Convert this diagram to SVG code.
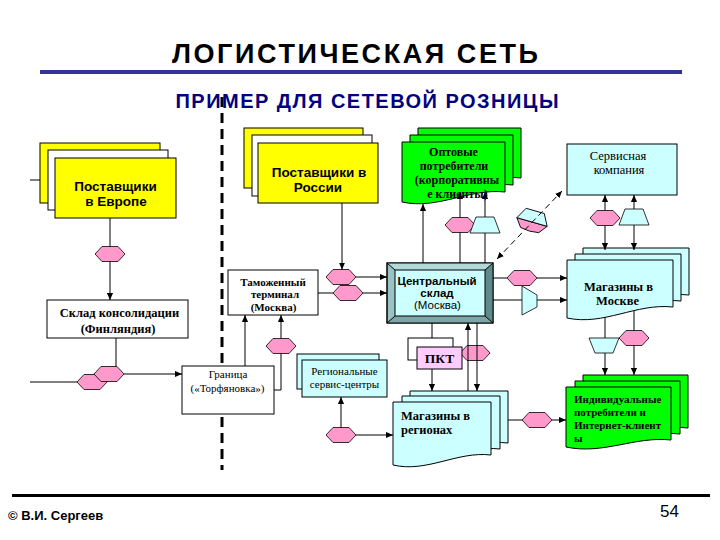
<svg xmlns="http://www.w3.org/2000/svg" width="720" height="540" viewBox="0 0 720 540">
<style>
.ln{stroke:#000;stroke-width:1;fill:none}
.hx{fill:#FF99CC;stroke:#000;stroke-width:0.8}
.tz{fill:#CCFFFF;stroke:#000;stroke-width:0.8}
.bx{stroke:#000;stroke-width:1}
.y{fill:#FFFF00}
.w{fill:#FFFFFF}
.g{fill:#00FF00}
.c{fill:#CCFFFF}
.sb{font-family:"Liberation Sans",Arial,sans-serif;font-weight:bold}
.s{font-family:"Liberation Sans",Arial,sans-serif}
.rb{font-family:"Liberation Serif","Times New Roman",serif;font-weight:bold}
.r{font-family:"Liberation Serif","Times New Roman",serif}
text{fill:#000}
</style>
<defs>
<marker id="ah" viewBox="0 0 8 8" refX="8" refY="4" markerWidth="7" markerHeight="7" markerUnits="userSpaceOnUse" orient="auto-start-reverse"><path d="M0,0.5 L8,4 L0,7.5 Z" fill="#000"/></marker>
<polygon id="hex" points="-15,0 -8,-7.5 8,-7.5 15,0 8,7.5 -8,7.5" class="hx"/>
<polygon id="trU" points="-9,-8 9,-8 15,8 -15,8" class="tz"/>
<polygon id="trD" points="-15,-7.5 15,-7.5 9,7.5 -9,7.5" class="tz"/>
</defs>
<rect width="720" height="540" fill="#fff"/>
<g id="title">
<text x="355" y="63" class="sb" font-size="27" text-anchor="middle" textLength="366" lengthAdjust="spacing">ЛОГИСТИЧЕСКАЯ СЕТЬ</text>
<rect x="40" y="70" width="642" height="4" fill="#333399"/>
<text x="367" y="108" class="sb" font-size="20" text-anchor="middle" textLength="383" lengthAdjust="spacing" style="fill:#000080">ПРИМЕР ДЛЯ СЕТЕВОЙ РОЗНИЦЫ</text>
</g>
<line x1="222" y1="97" x2="222" y2="470" stroke="#000" stroke-width="3" stroke-dasharray="10 6"/>
<g id="n-europe">
<rect x="40" y="143" width="120" height="60" class="bx y"/>
<rect x="48" y="150" width="120" height="60" class="bx w"/>
<rect x="55" y="158" width="121" height="60" class="bx y"/>
<text x="115.5" y="191" class="sb" font-size="13.5" text-anchor="middle">Поставщики</text>
<text x="116" y="206" class="sb" font-size="13.5" text-anchor="middle">в Европе</text>
</g>
<g id="n-sklad">
<rect x="47" y="300" width="141" height="38" class="bx w"/>
<text x="119.5" y="317" class="rb" font-size="12.5" text-anchor="middle">Склад консолидации</text>
<text x="118" y="333" class="rb" font-size="12.5" text-anchor="middle">(Финляндия)</text>
</g>
<g id="n-granica">
<rect x="182" y="366" width="92" height="48" class="bx w"/>
<text x="228" y="378" class="r" font-size="11" text-anchor="middle">Граница</text>
<text x="227.5" y="392" class="r" font-size="11" text-anchor="middle">(«Торфяновка»)</text>
</g>
<g id="n-tamozh">
<rect x="228" y="270" width="90" height="45" class="bx w"/>
<text x="273" y="286" class="rb" font-size="11" text-anchor="middle">Таможенный</text>
<text x="275" y="298" class="rb" font-size="11" text-anchor="middle">терминал</text>
<text x="273.5" y="311" class="rb" font-size="11" text-anchor="middle">(Москва)</text>
</g>
<g id="n-russia">
<rect x="244" y="128" width="119" height="60" class="bx y"/>
<rect x="252" y="135" width="120" height="61" class="bx w"/>
<rect x="258" y="143" width="120" height="60" class="bx y"/>
<text x="319" y="177" class="sb" font-size="13.5" text-anchor="middle">Поставщики в</text>
<text x="318" y="192" class="sb" font-size="13.5" text-anchor="middle">России</text>
</g>
<g id="n-optovye">
<path d="M418,128 H521 V178 C485,174 454,196 418,188 Z" class="bx g"/>
<path d="M410,135 H513 V185 C477,181 446,203 410,195 Z" class="bx g"/>
<path d="M402,142 H505 V192 C469,188 438,210 402,202 Z" class="bx g"/>
<text x="453.5" y="156" class="rb" font-size="12" text-anchor="middle">Оптовые</text>
<text x="454" y="170" class="rb" font-size="12" text-anchor="middle">потребители</text>
<text x="457" y="184" class="rb" font-size="12" text-anchor="middle">(корпоративны</text>
<text x="457.5" y="198" class="rb" font-size="12" text-anchor="middle">е клиенты)</text>
</g>
<g id="n-servis">
<rect x="567" y="144" width="110" height="51" class="bx c"/>
<text x="618" y="160" class="r" font-size="12.5" text-anchor="middle">Сервисная</text>
<text x="619" y="174" class="r" font-size="12.5" text-anchor="middle">компания</text>
</g>
<g id="n-central">
<rect x="387" y="263" width="106" height="60" class="bx" fill="#99C2C2"/>
<polygon points="387,263 493,263 485,270 395,270" fill="#B3D9D9"/>
<polygon points="493,263 493,323 485,316 485,270" fill="#5F8A8A"/>
<polygon points="387,323 493,323 485,316 395,316" fill="#7FA6A6"/>
<rect x="387" y="263" width="106" height="60" class="bx" fill="none"/>
<rect x="395" y="270" width="90" height="46" class="bx c"/>
<path d="M387,263 L395,270 M493,263 L485,270 M387,323 L395,316 M493,323 L485,316" class="ln"/>
<text x="437" y="285" class="sb" font-size="11.5" text-anchor="middle">Центральный</text>
<text x="437" y="297" class="sb" font-size="11.5" text-anchor="middle">склад</text>
<text x="437.5" y="309" class="s" font-size="11.5" text-anchor="middle">(Москва)</text>
</g>
<g id="n-moscow">
<path d="M583,248 H689 V295 C652,291 620,314 583,306 Z" class="bx c"/>
<path d="M575,254 H681 V301 C644,297 612,320 575,312 Z" class="bx c"/>
<path d="M567,260 H673 V307 C636,303 604,326 567,318 Z" class="bx c"/>
<text x="618.5" y="291" class="rb" font-size="12.5" text-anchor="middle">Магазины в</text>
<text x="617.5" y="305" class="rb" font-size="12.5" text-anchor="middle">Москве</text>
</g>
<g id="n-pkt-hex"><use href="#hex" x="475" y="353"/></g>
<g id="n-pkt">
<rect x="408" y="338" width="45" height="22" class="bx w"/>
<rect x="417" y="347" width="45" height="22" class="bx" fill="#FFCCFF"/>
<text x="439.5" y="362.5" class="rb" font-size="13.5" text-anchor="middle">ПКТ</text>
</g>
<g id="n-regsc">
<rect x="297" y="354" width="82" height="35" class="bx c"/>
<rect x="302" y="360" width="85" height="37" class="bx c"/>
<text x="344.5" y="375" class="r" font-size="11" text-anchor="middle">Региональные</text>
<text x="344.5" y="388" class="r" font-size="11" text-anchor="middle">сервис-центры</text>
</g>
<g id="n-regions">
<path d="M410,391 H508 V443 C474,439 444,461 410,453 Z" class="bx c"/>
<path d="M402,396 H500 V449 C466,445 436,467 402,459 Z" class="bx c"/>
<path d="M393,402 H491 V455 C457,451 427,473 393,465 Z" class="bx c"/>
<text x="401" y="420" class="rb" font-size="12.5">Магазины в</text>
<text x="401" y="434" class="rb" font-size="12.5">регионах</text>
</g>
<g id="n-individ">
<path d="M583,375 H688 V428 C652,424 620,443 583,435 Z" class="bx g"/>
<path d="M575,381 H680 V434 C644,430 612,449 575,441 Z" class="bx g"/>
<path d="M566,387 H671 V440 C635,436 603,455 566,447 Z" class="bx g"/>
<text x="574" y="403" class="rb" font-size="11">Индивидуальные</text>
<text x="574" y="416" class="rb" font-size="11">потребители и</text>
<text x="574" y="429" class="rb" font-size="11">Интернет-клиент</text>
<text x="574" y="442" class="rb" font-size="11">ы</text>
</g>
<g id="n-flows">
<use href="#hex" x="110" y="254"/>
<use href="#hex" x="92" y="382"/>
<use href="#hex" x="109" y="374"/>
<use href="#hex" x="281" y="346"/>
<use href="#hex" x="341" y="277"/>
<use href="#hex" x="348" y="293"/>
<use href="#hex" x="460" y="225"/>
<use href="#trU" x="485" y="225"/>
<use href="#hex" x="522" y="278"/>
<polygon points="522,286 537,295 537,307 522,315" class="tz"/>
<use href="#hex" x="605" y="218"/>
<use href="#trU" x="634" y="217"/>
<use href="#trD" x="604" y="345.5"/>
<use href="#hex" x="634" y="338"/>
<use href="#hex" x="341" y="435"/>
<use href="#hex" x="537" y="420"/>
<g transform="translate(532,222) rotate(-74) scale(1.05)">
<polygon points="0,-15 0,15 -8,9 -9,0 -8,-9" class="hx"/>
<polygon points="0,-15 11,-9 11,9 0,15" class="tz"/>
</g>
</g>
<g id="connectors" class="ln">
<line x1="30" y1="180" x2="40" y2="180"/>
<line x1="110" y1="218" x2="110" y2="246.5"/>
<line x1="110" y1="261.5" x2="110" y2="300" marker-end="url(#ah)"/>
<line x1="116" y1="338" x2="116" y2="366.5"/>
<line x1="124" y1="374" x2="182" y2="374" marker-end="url(#ah)"/>
<line x1="30" y1="382" x2="77" y2="382"/>
<line x1="245" y1="366" x2="245" y2="315" marker-end="url(#ah)"/>
<polyline points="274,390 281,390 281,353.5"/>
<line x1="281" y1="338.5" x2="281" y2="315" marker-end="url(#ah)"/>
<line x1="342" y1="203" x2="342" y2="269.5" marker-end="url(#ah)"/>
<line x1="356" y1="277" x2="387" y2="277" marker-end="url(#ah)"/>
<line x1="318" y1="293" x2="333" y2="293"/>
<line x1="363" y1="293" x2="387" y2="293" marker-end="url(#ah)"/>
<line x1="423" y1="263" x2="423" y2="204" marker-end="url(#ah)"/>
<line x1="460" y1="263" x2="460" y2="232.5"/>
<line x1="460" y1="217.5" x2="460" y2="192" marker-end="url(#ah)"/>
<line x1="485" y1="263" x2="485" y2="233"/>
<line x1="485" y1="217" x2="485" y2="192" marker-end="url(#ah)"/>
<line x1="497" y1="259" x2="562" y2="191" stroke-dasharray="6 4" marker-start="url(#ah)" marker-end="url(#ah)"/>
<line x1="493" y1="278" x2="507" y2="278"/>
<line x1="537" y1="278" x2="567" y2="278" marker-end="url(#ah)"/>
<line x1="493" y1="300" x2="522" y2="300"/>
<line x1="537" y1="300" x2="567" y2="300" marker-end="url(#ah)"/>
<line x1="605" y1="210.5" x2="605" y2="195" marker-end="url(#ah)"/>
<line x1="605" y1="225.5" x2="605" y2="250" marker-end="url(#ah)"/>
<line x1="634" y1="209" x2="634" y2="195" marker-end="url(#ah)"/>
<line x1="634" y1="225" x2="634" y2="250" marker-end="url(#ah)"/>
<line x1="605" y1="317" x2="605" y2="338"/>
<line x1="605" y1="353" x2="605" y2="375" marker-end="url(#ah)"/>
<line x1="634" y1="311" x2="634" y2="330.5"/>
<line x1="634" y1="345.5" x2="634" y2="375" marker-end="url(#ah)"/>
<line x1="432" y1="323" x2="432" y2="338"/>
<line x1="432" y1="369" x2="432" y2="391" marker-end="url(#ah)"/>
<line x1="468" y1="391" x2="468" y2="323" marker-end="url(#ah)"/>
<line x1="477" y1="323" x2="477" y2="391" marker-end="url(#ah)"/>
<line x1="341" y1="427.5" x2="341" y2="397" marker-end="url(#ah)"/>
<line x1="356" y1="435" x2="393" y2="435" marker-end="url(#ah)"/>
<line x1="508" y1="420" x2="522" y2="420"/>
<line x1="552" y1="420" x2="566" y2="420" marker-end="url(#ah)"/>
</g>
<g id="footer">
<rect x="12" y="494" width="698" height="3" fill="#000"/>
<text x="8" y="520" class="sb" font-size="13">© В.И. Сергеев</text>
<text x="660" y="517" class="s" font-size="17">54</text>
</g>
</svg>
